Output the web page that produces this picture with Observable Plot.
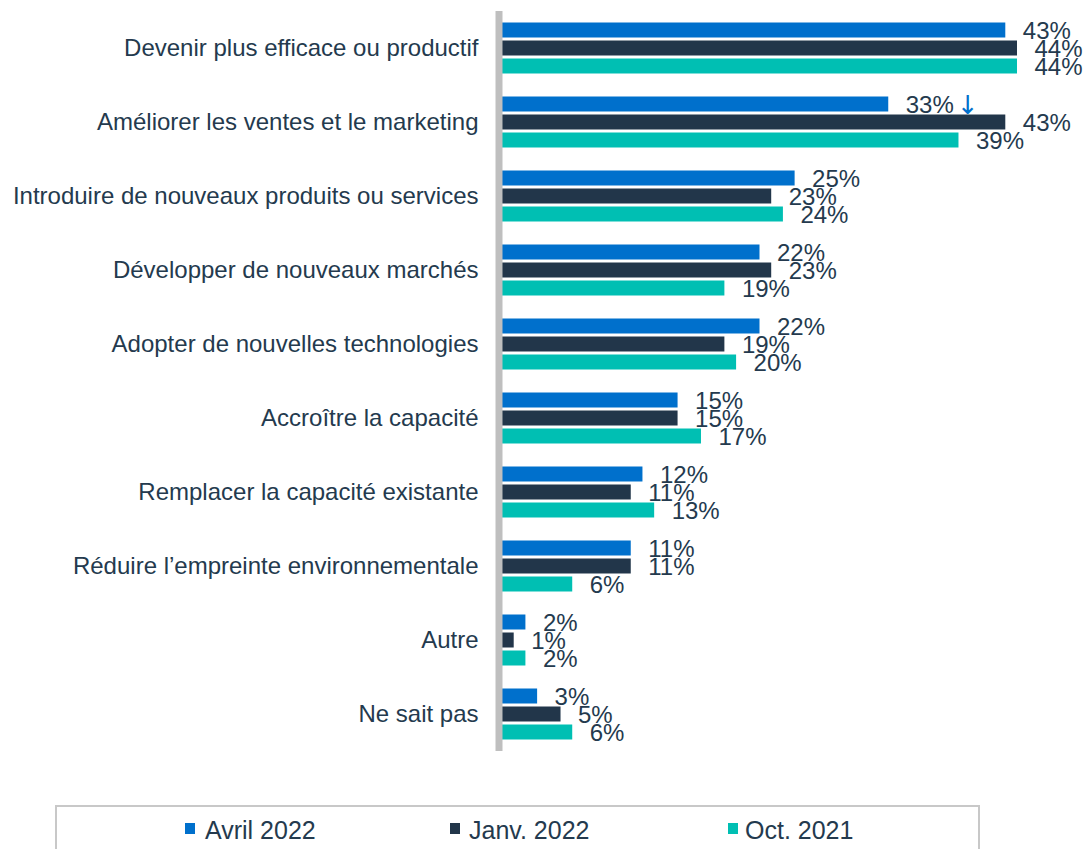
<!DOCTYPE html>
<html>
<head>
<meta charset="utf-8">
<script src="https://cdn.jsdelivr.net/npm/d3@7"></script>
<script src="https://cdn.jsdelivr.net/npm/@observablehq/plot@0.6"></script>
<style>
  body { margin: 0; background: #fff; font-family: "Liberation Sans", Arial, sans-serif; }
  #chart svg { display: block; }
  #legend { position: relative; margin-left: 55px; margin-top: 35px; width: 925px; height: 60px;
            border: 2px solid #c8c8c8; box-sizing: border-box; }
  .item { position: absolute; top: 8px; font-size: 25px; color: #243a4e; white-space: nowrap; line-height: 30px; }
  .sw { position: absolute; width: 10px; height: 11px; top: 10px; }
</style>
</head>
<body>
<div id="chart"></div>
<div id="legend"></div>
<script>
const categories = [
  "Devenir plus efficace ou productif",
  "Améliorer les ventes et le marketing",
  "Introduire de nouveaux produits ou services",
  "Développer de nouveaux marchés",
  "Adopter de nouvelles technologies",
  "Accroître la capacité",
  "Remplacer la capacité existante",
  "Réduire l’empreinte environnementale",
  "Autre",
  "Ne sait pas"
];
const series = ["Avril 2022", "Janv. 2022", "Oct. 2021"];
const colors = ["#0070CC", "#22364A", "#00BFB3"];
const avril2022 = [43, 33, 25, 22, 22, 15, 12, 11, 2, 3];
const janv2022  = [44, 43, 23, 23, 19, 15, 11, 11, 1, 5];
const oct2021   = [44, 39, 24, 19, 20, 17, 13, 6, 2, 6];
const arrowNotes = [{cat: "Améliorer les ventes et le marketing", series: "Avril 2022", value: 33, mark: "↓"}];

const valuesBySeries = [avril2022, janv2022, oct2021];
const rows = [];
categories.forEach((c, i) => series.forEach((s, j) => rows.push({cat: c, series: s, value: valuesBySeries[j][i]})));

const textColor = "#243a4e";

const chart = Plot.plot({
  width: 1083,
  height: 770,
  marginLeft: 502,
  marginRight: 66,
  marginTop: 11,
  marginBottom: 19,
  style: {fontFamily: "'Liberation Sans', Arial, sans-serif", fontSize: "24px", color: textColor, background: "#fff"},
  x: {domain: [0, 44], axis: null},
  y: {domain: series, axis: null, paddingInner: 0.1667, paddingOuter: 0.639, round: false},
  fy: {domain: categories, padding: 0, label: null, tickSize: 0, tickPadding: 24, round: false},
  color: {domain: series, range: colors},
  marks: [
    Plot.barX(rows, {fy: "cat", y: "series", x: "value", fill: "series"}),
    Plot.ruleX([0], {stroke: "#bfbfbf", strokeWidth: 7, dx: -3.5}),
    Plot.text(rows, {fy: "cat", y: "series", x: "value", text: d => d.value + "%", dx: 17, dy: 1,
                     textAnchor: "start", fill: textColor, fontSize: 24}),
    Plot.text(arrowNotes, {fy: "cat", y: "series", x: "value", text: "mark", dx: 79, dy: 1,
                           textAnchor: "middle", fill: "#0070CC", fontSize: 26, fontFamily: "DejaVu Sans"})
  ]
});
document.getElementById("chart").appendChild(chart);

const legend = document.getElementById("legend");
const legendPos = [[128, 148], [393, 412], [671, 688]];
series.forEach((s, i) => {
  const sw = document.createElement("div");
  sw.className = "sw";
  sw.style.left = legendPos[i][0] + "px";
  sw.style.top = "16px";
  sw.style.background = colors[i];
  legend.appendChild(sw);
  const t = document.createElement("div");
  t.className = "item";
  t.style.left = legendPos[i][1] + "px";
  t.textContent = s;
  legend.appendChild(t);
});
</script>
</body>
</html>
